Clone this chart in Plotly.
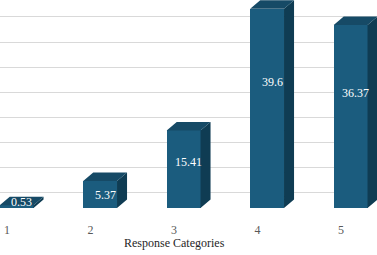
import plotly.graph_objects as go

categories = ["1", "2", "3", "4", "5"]
values = [0.53, 5.37, 15.41, 39.6, 36.37]
label_texts = ["0.53", "5.37", "15.41", "39.6", "36.37"]
x_title = "Response Categories"

FRONT = "#1b5c7e"
SIDE = "#0f3c53"
TOP = "#164a66"
SERIF = "Liberation Serif, Times New Roman, serif"

pos = list(range(1, len(categories) + 1))
shift = 0.115      # bar offset from tick label (3D projection look)
w = 0.405          # bar width (category units)
dx = 0.12          # depth offset x (category units)
dy = 1.69          # depth offset y (value units)

xc = [p + shift for p in pos]

fig = go.Figure()

# side faces
sx, sy = [], []
for c, v in zip(xc, values):
    r = c + w / 2
    sx += [r, r + dx, r + dx, r, r, None]
    sy += [0, dy, v + dy, v, 0, None]
fig.add_trace(go.Scatter(x=sx, y=sy, mode="lines", fill="toself", fillcolor=SIDE,
                         line=dict(width=0, color=SIDE), hoverinfo="skip", showlegend=False))

# top faces
tx, ty = [], []
for c, v in zip(xc, values):
    l, r = c - w / 2, c + w / 2
    tx += [l, l + dx, r + dx, r, l, None]
    ty += [v, v + dy, v + dy, v, v, None]
fig.add_trace(go.Scatter(x=tx, y=ty, mode="lines", fill="toself", fillcolor=TOP,
                         line=dict(width=0, color=TOP), hoverinfo="skip", showlegend=False))

# front faces
fig.add_trace(go.Bar(x=xc, y=values, width=w, marker=dict(color=FRONT, line=dict(width=0)),
                     hoverinfo="skip", showlegend=False))

# data labels
for c, v, t in zip(xc, values, label_texts):
    ly = 0.655 * v - 0.95 if v > 3 else v + 0.4 * dy
    fig.add_annotation(x=c + dx / 2, y=ly, text=t, showarrow=False,
                       font=dict(family=SERIF, size=12, color="white"),
                       xanchor="center", yanchor="middle")

fig.add_annotation(x=3, xref="x", y=-0.168, yref="paper", text=x_title, showarrow=False,
                   font=dict(family=SERIF, size=12, color="#262626"),
                   xanchor="center", yanchor="middle")

fig.update_layout(
    width=377, height=255,
    margin=dict(l=0, r=0, t=0, b=47),
    paper_bgcolor="white", plot_bgcolor="white",
    bargap=0,
    font=dict(family=SERIF, size=12, color="#595959"),
    xaxis=dict(range=[0.916, 5.431], tickvals=pos, ticktext=categories,
               showgrid=False, zeroline=False, showline=False,
               ticks="outside", ticklen=11, tickcolor="rgba(0,0,0,0)",
               tickfont=dict(family=SERIF, size=12, color="#595959"),
               fixedrange=True),
    yaxis=dict(range=[0, 41.35], tickvals=[5 * k - 2 for k in range(1, 9)],
               showticklabels=False, showgrid=True, gridcolor="#d9d9d9", gridwidth=1,
               zeroline=False, showline=False, fixedrange=True),
)

fig.write_html("out.html", config={"displayModeBar": False},
               post_script="document.body.style.margin='0';")
